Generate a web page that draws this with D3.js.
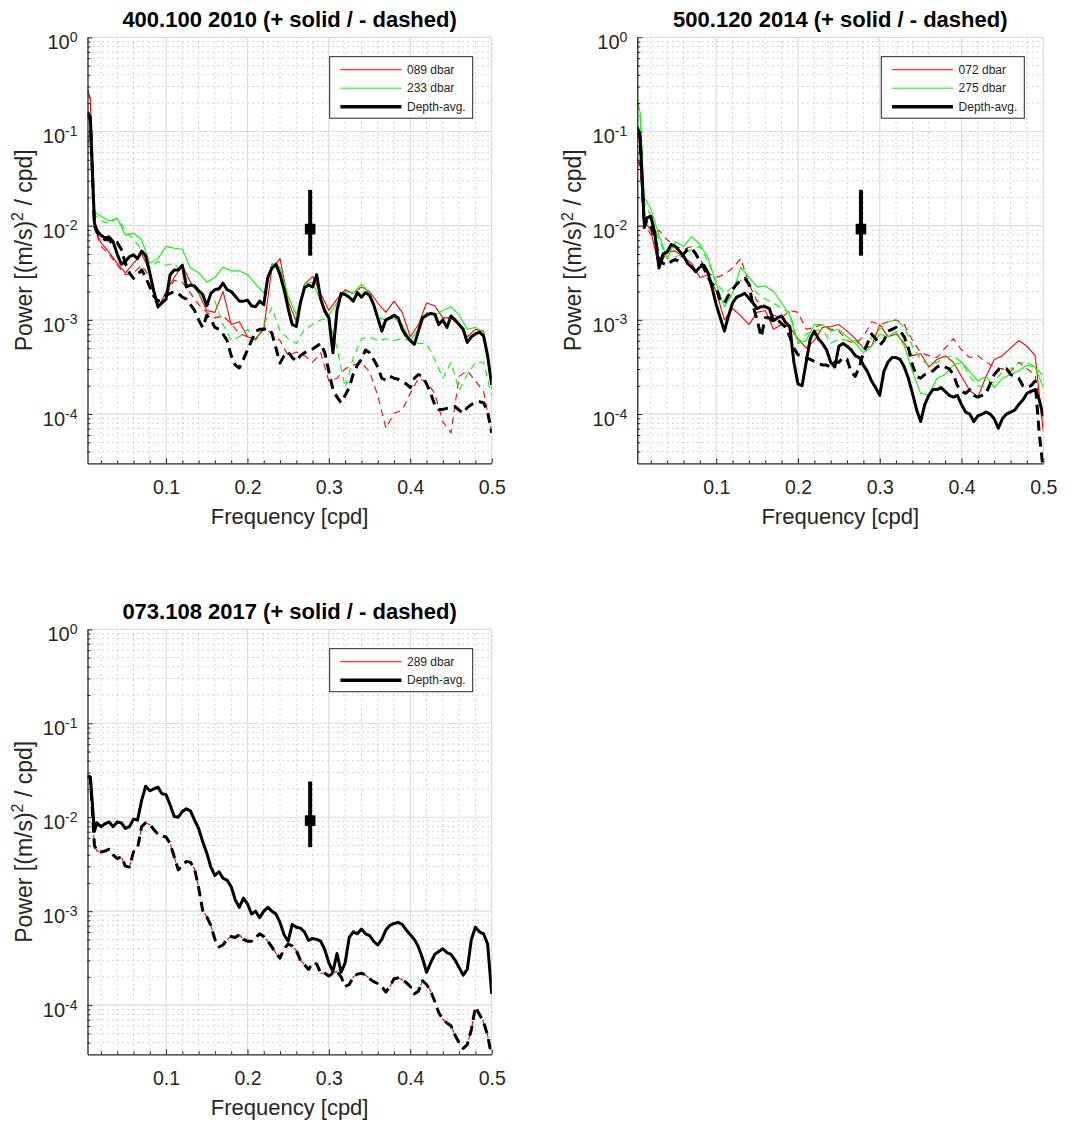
<!DOCTYPE html>
<html>
<head>
<meta charset="utf-8">
<script src="https://cdn.jsdelivr.net/npm/d3@7"></script>
<style>
  body { margin: 0; background: #fff; }
  svg { display: block; font-family: "Liberation Sans", Arial, Helvetica, sans-serif; }
</style>
</head>
<body>
<div id="chart"></div>
<script>
// frequency grids [cpd]: fine one for the depth-averaged spectra, coarse one for single depths
var freqFine = [0.0035, 0.007, 0.012, 0.015, 0.02, 0.025, 0.03, 0.035, 0.04, 0.045,
  0.05, 0.055, 0.06, 0.065, 0.07, 0.075, 0.08, 0.085, 0.09, 0.095,
  0.1, 0.105, 0.11, 0.115, 0.12, 0.125, 0.13, 0.135, 0.14, 0.145,
  0.15, 0.155, 0.16, 0.165, 0.17, 0.175, 0.18, 0.185, 0.19, 0.195,
  0.2, 0.205, 0.21, 0.215, 0.22, 0.225, 0.23, 0.235, 0.24, 0.245,
  0.25, 0.255, 0.26, 0.265, 0.27, 0.275, 0.28, 0.285, 0.29, 0.295,
  0.3, 0.305, 0.31, 0.315, 0.32, 0.325, 0.33, 0.335, 0.34, 0.345,
  0.35, 0.355, 0.36, 0.365, 0.37, 0.375, 0.38, 0.385, 0.39, 0.395,
  0.4, 0.405, 0.41, 0.415, 0.42, 0.425, 0.43, 0.435, 0.44, 0.445,
  0.45, 0.455, 0.46, 0.465, 0.47, 0.475, 0.48, 0.485, 0.49, 0.495,
  0.5];
var freqCoarse = [0.0035, 0.007, 0.012, 0.02, 0.03, 0.04, 0.05, 0.06, 0.07, 0.08,
  0.09, 0.1, 0.11, 0.12, 0.13, 0.14, 0.15, 0.16, 0.17, 0.18,
  0.19, 0.2, 0.21, 0.22, 0.23, 0.24, 0.25, 0.26, 0.27, 0.28,
  0.29, 0.3, 0.31, 0.32, 0.33, 0.34, 0.35, 0.36, 0.37, 0.38,
  0.39, 0.4, 0.41, 0.42, 0.43, 0.44, 0.45, 0.46, 0.47, 0.48,
  0.49, 0.5];

var freqTicks = [0.1, 0.2, 0.3, 0.4, 0.5];
var powerTicks = [1e-4, 1e-3, 1e-2, 1e-1, 1];
var powerExps = ["-4", "-3", "-2", "-1", "0"];

// error bar (95% confidence)
var errFreq = 0.277, errMid = 9.2e-3, errLow = 4.8e-3, errHigh = 2.4e-2;

// ---- 400.100 2010 ----
var p1AvgPos = [1.62e-1, 1.41e-1, 1.07e-2, 8.91e-3, 7.94e-3, 7.41e-3, 7.59e-3, 6.76e-3, 5.01e-3, 3.89e-3,
  4.17e-3, 4.68e-3, 4.90e-3, 4.47e-3, 5.37e-3, 4.79e-3, 3.16e-3, 2.00e-3, 1.38e-3, 1.51e-3,
  1.66e-3, 3.02e-3, 3.39e-3, 3.39e-3, 3.80e-3, 2.24e-3, 2.34e-3, 2.29e-3, 2.04e-3, 1.86e-3,
  1.41e-3, 1.91e-3, 2.09e-3, 2.14e-3, 2.45e-3, 2.09e-3, 2.00e-3, 1.78e-3, 1.58e-3, 1.58e-3,
  1.62e-3, 1.41e-3, 1.38e-3, 1.58e-3, 1.45e-3, 2.82e-3, 3.55e-3, 3.89e-3, 3.02e-3, 2.09e-3,
  1.32e-3, 8.91e-4, 8.51e-4, 1.51e-3, 2.19e-3, 2.34e-3, 2.24e-3, 3.02e-3, 1.66e-3, 1.23e-3,
  1.05e-3, 4.47e-4, 1.26e-3, 1.91e-3, 1.86e-3, 1.74e-3, 1.58e-3, 1.95e-3, 1.74e-3, 1.95e-3,
  1.82e-3, 1.45e-3, 1.05e-3, 7.59e-4, 1.00e-3, 1.05e-3, 1.12e-3, 1.05e-3, 7.94e-4, 6.76e-4,
  6.03e-4, 5.50e-4, 7.59e-4, 1.05e-3, 1.12e-3, 1.17e-3, 1.15e-3, 8.91e-4, 1.00e-3, 8.32e-4,
  1.10e-3, 1.00e-3, 8.91e-4, 7.94e-4, 5.75e-4, 6.61e-4, 7.08e-4, 7.41e-4, 6.76e-4, 4.17e-4,
  2.04e-4];
var p1AvgNeg = [1.51e-1, 1.32e-1, 1.00e-2, 8.51e-3, 7.59e-3, 7.08e-3, 7.08e-3, 6.31e-3, 6.61e-3, 5.62e-3,
  3.98e-3, 3.16e-3, 2.75e-3, 3.02e-3, 3.39e-3, 2.82e-3, 2.24e-3, 1.78e-3, 1.58e-3, 1.66e-3,
  1.82e-3, 1.91e-3, 2.00e-3, 1.91e-3, 1.74e-3, 1.66e-3, 1.45e-3, 1.26e-3, 1.00e-3, 8.32e-4,
  1.12e-3, 1.00e-3, 8.32e-4, 7.94e-4, 7.08e-4, 6.03e-4, 4.17e-4, 3.31e-4, 3.09e-4, 3.80e-4,
  4.79e-4, 6.03e-4, 7.59e-4, 7.94e-4, 7.94e-4, 8.13e-4, 7.24e-4, 5.01e-4, 3.47e-4, 4.17e-4,
  4.57e-4, 3.98e-4, 3.63e-4, 4.17e-4, 4.47e-4, 4.68e-4, 4.90e-4, 5.25e-4, 5.62e-4, 4.47e-4,
  2.82e-4, 1.82e-4, 1.51e-4, 1.32e-4, 1.58e-4, 1.91e-4, 2.69e-4, 3.31e-4, 3.80e-4, 4.79e-4,
  4.47e-4, 3.80e-4, 3.16e-4, 2.40e-4, 2.29e-4, 2.51e-4, 2.40e-4, 2.34e-4, 2.19e-4, 2.09e-4,
  1.91e-4, 2.40e-4, 2.63e-4, 2.51e-4, 2.09e-4, 1.66e-4, 1.26e-4, 1.12e-4, 1.12e-4, 1.15e-4,
  1.17e-4, 1.20e-4, 1.10e-4, 1.02e-4, 1.17e-4, 1.26e-4, 1.32e-4, 1.35e-4, 1.32e-4, 1.05e-4,
  6.31e-5];
var p1Red089Pos = [2.82e-1, 2.24e-1, 1.00e-2, 6.61e-3, 5.25e-3, 3.98e-3, 3.16e-3, 3.98e-3, 5.01e-3, 3.31e-3,
  1.32e-3, 2.00e-3, 2.82e-3, 3.80e-3, 2.51e-3, 1.91e-3, 1.26e-3, 1.20e-3, 2.00e-3, 8.91e-4,
  9.55e-4, 6.61e-4, 6.31e-4, 7.94e-4, 3.55e-3, 4.47e-3, 1.58e-3, 9.55e-4, 2.40e-3, 2.88e-3,
  1.91e-3, 1.26e-3, 1.66e-3, 2.09e-3, 1.91e-3, 2.24e-3, 2.00e-3, 1.51e-3, 1.20e-3, 1.58e-3,
  1.20e-3, 6.61e-4, 8.91e-4, 1.51e-3, 1.41e-3, 1.05e-3, 1.05e-3, 8.71e-4, 6.61e-4, 7.94e-4,
  7.59e-4, 2.29e-4];
var p1Red089Neg = [2.63e-1, 2.09e-1, 9.55e-3, 6.03e-3, 5.01e-3, 3.80e-3, 3.02e-3, 3.16e-3, 3.80e-3, 2.82e-3,
  1.32e-3, 1.82e-3, 2.63e-3, 2.51e-3, 1.91e-3, 1.45e-3, 1.20e-3, 1.05e-3, 1.10e-3, 9.12e-4,
  7.08e-4, 6.61e-4, 6.17e-4, 8.32e-4, 7.08e-4, 6.03e-4, 4.17e-4, 4.57e-4, 4.17e-4, 3.55e-4,
  4.47e-4, 2.24e-4, 2.40e-4, 3.02e-4, 3.31e-4, 3.47e-4, 2.82e-4, 1.58e-4, 7.08e-5, 1.02e-4,
  1.10e-4, 1.66e-4, 2.40e-4, 2.19e-4, 1.66e-4, 8.32e-5, 6.31e-5, 2.51e-4, 2.88e-4, 2.24e-4,
  1.74e-4, 6.31e-5];
var p1Green233Pos = [8.51e-2, 7.94e-2, 1.41e-2, 1.26e-2, 1.12e-2, 1.20e-2, 7.94e-3, 8.32e-3, 7.08e-3, 3.98e-3,
  4.47e-3, 6.03e-3, 5.75e-3, 5.62e-3, 3.55e-3, 3.16e-3, 2.51e-3, 2.82e-3, 3.63e-3, 3.31e-3,
  3.31e-3, 3.02e-3, 2.40e-3, 1.91e-3, 3.98e-3, 3.55e-3, 1.78e-3, 1.12e-3, 2.40e-3, 2.51e-3,
  1.58e-3, 1.12e-3, 1.51e-3, 2.00e-3, 1.91e-3, 2.40e-3, 1.91e-3, 1.05e-3, 1.00e-3, 1.05e-3,
  8.91e-4, 6.03e-4, 7.94e-4, 1.20e-3, 1.12e-3, 1.26e-3, 1.38e-3, 1.12e-3, 7.94e-4, 8.32e-4,
  7.41e-4, 1.82e-4];
var p1Green233Neg = [7.94e-2, 7.08e-2, 1.32e-2, 1.12e-2, 1.05e-2, 1.20e-2, 8.91e-3, 7.08e-3, 5.62e-3, 3.55e-3,
  4.17e-3, 3.80e-3, 3.98e-3, 3.16e-3, 2.40e-3, 1.91e-3, 1.41e-3, 1.58e-3, 8.91e-4, 6.03e-4,
  6.61e-4, 7.94e-4, 6.03e-4, 8.91e-4, 1.35e-3, 7.59e-4, 6.31e-4, 5.62e-4, 7.94e-4, 8.91e-4,
  1.00e-3, 1.05e-3, 5.01e-4, 1.91e-4, 3.98e-4, 6.31e-4, 6.61e-4, 6.03e-4, 6.31e-4, 6.03e-4,
  6.31e-4, 6.03e-4, 5.62e-4, 5.62e-4, 3.80e-4, 2.40e-4, 3.55e-4, 1.78e-4, 2.63e-4, 3.55e-4,
  3.55e-4, 1.55e-4];

// ---- 500.120 2014 ----
var p2AvgPos = [1.12e-1, 8.91e-2, 1.05e-2, 1.20e-2, 1.26e-2, 8.32e-3, 3.55e-3, 5.01e-3, 5.25e-3, 6.31e-3,
  6.03e-3, 5.37e-3, 4.79e-3, 3.98e-3, 3.63e-3, 3.24e-3, 3.63e-3, 3.80e-3, 3.16e-3, 2.19e-3,
  1.45e-3, 1.05e-3, 7.59e-4, 1.10e-3, 1.51e-3, 1.74e-3, 1.82e-3, 1.91e-3, 1.70e-3, 1.51e-3,
  1.32e-3, 1.38e-3, 1.38e-3, 1.32e-3, 9.77e-4, 1.05e-3, 1.10e-3, 9.33e-4, 8.51e-4, 3.55e-4,
  2.09e-4, 2.00e-4, 3.55e-4, 6.31e-4, 7.59e-4, 6.31e-4, 5.62e-4, 4.79e-4, 3.55e-4, 3.16e-4,
  5.25e-4, 5.62e-4, 5.25e-4, 4.79e-4, 4.17e-4, 3.98e-4, 3.31e-4, 2.82e-4, 2.24e-4, 1.91e-4,
  1.58e-4, 2.82e-4, 3.55e-4, 3.98e-4, 3.98e-4, 3.80e-4, 3.16e-4, 2.40e-4, 1.66e-4, 1.12e-4,
  8.32e-5, 1.26e-4, 1.58e-4, 1.82e-4, 1.82e-4, 1.91e-4, 1.74e-4, 1.58e-4, 1.51e-4, 1.58e-4,
  1.26e-4, 1.05e-4, 1.00e-4, 8.32e-5, 9.55e-5, 1.00e-4, 1.05e-4, 1.00e-4, 8.91e-5, 7.08e-5,
  8.91e-5, 1.00e-4, 1.05e-4, 1.10e-4, 1.26e-4, 1.41e-4, 1.66e-4, 1.74e-4, 1.82e-4, 1.41e-4,
  9.55e-5];
var p2AvgNeg = [1.05e-1, 8.32e-2, 9.55e-3, 1.12e-2, 1.00e-2, 7.59e-3, 4.47e-3, 3.98e-3, 3.80e-3, 4.17e-3,
  4.37e-3, 4.17e-3, 5.01e-3, 5.62e-3, 5.75e-3, 5.01e-3, 4.17e-3, 3.55e-3, 2.82e-3, 2.40e-3,
  2.24e-3, 1.58e-3, 1.51e-3, 1.82e-3, 2.09e-3, 2.40e-3, 2.63e-3, 2.75e-3, 2.40e-3, 1.41e-3,
  1.00e-3, 6.61e-4, 1.05e-3, 1.05e-3, 9.55e-4, 1.00e-3, 9.12e-4, 8.32e-4, 6.61e-4, 5.01e-4,
  4.27e-4, 4.17e-4, 3.98e-4, 3.80e-4, 3.63e-4, 3.47e-4, 3.31e-4, 3.31e-4, 3.16e-4, 3.55e-4,
  3.55e-4, 3.98e-4, 3.80e-4, 2.82e-4, 2.51e-4, 3.16e-4, 4.47e-4, 5.62e-4, 7.08e-4, 6.31e-4,
  5.37e-4, 6.03e-4, 7.59e-4, 7.94e-4, 8.32e-4, 7.59e-4, 6.61e-4, 5.01e-4, 3.31e-4, 2.51e-4,
  2.40e-4, 2.63e-4, 2.75e-4, 2.88e-4, 3.16e-4, 3.31e-4, 3.16e-4, 3.02e-4, 2.63e-4, 2.00e-4,
  1.74e-4, 1.66e-4, 1.82e-4, 1.58e-4, 1.51e-4, 1.58e-4, 1.66e-4, 2.09e-4, 2.63e-4, 2.95e-4,
  3.02e-4, 3.02e-4, 2.63e-4, 2.51e-4, 2.40e-4, 2.00e-4, 1.91e-4, 2.00e-4, 2.24e-4, 6.31e-5,
  2.51e-5];
var p2Red072Pos = [5.25e-2, 4.47e-2, 1.12e-2, 8.91e-3, 3.55e-3, 5.37e-3, 5.37e-3, 4.68e-3, 3.98e-3, 2.82e-3,
  3.02e-3, 2.00e-3, 1.00e-3, 1.32e-3, 1.10e-3, 8.91e-4, 1.20e-3, 1.26e-3, 7.94e-4, 8.91e-4,
  8.32e-4, 6.31e-4, 5.01e-4, 6.03e-4, 8.32e-4, 8.51e-4, 8.91e-4, 7.59e-4, 6.31e-4, 5.01e-4,
  5.25e-4, 8.91e-4, 6.61e-4, 7.08e-4, 5.62e-4, 4.17e-4, 4.37e-4, 3.16e-4, 3.80e-4, 4.17e-4,
  3.55e-4, 2.51e-4, 1.78e-4, 1.51e-4, 2.51e-4, 3.80e-4, 4.17e-4, 5.01e-4, 6.03e-4, 5.25e-4,
  4.17e-4, 6.61e-5];
var p2Red072Neg = [5.01e-2, 4.17e-2, 1.12e-2, 7.94e-3, 8.91e-3, 7.08e-3, 6.03e-3, 5.62e-3, 6.03e-3, 4.47e-3,
  3.16e-3, 2.82e-3, 3.02e-3, 3.55e-3, 4.47e-3, 2.40e-3, 1.58e-3, 1.41e-3, 1.12e-3, 1.05e-3,
  1.26e-3, 1.20e-3, 7.94e-4, 8.32e-4, 8.91e-4, 7.94e-4, 7.59e-4, 6.03e-4, 5.62e-4, 6.61e-4,
  9.55e-4, 8.91e-4, 9.55e-4, 1.00e-3, 8.91e-4, 6.03e-4, 4.47e-4, 4.17e-4, 3.98e-4, 5.01e-4,
  6.31e-4, 4.79e-4, 3.98e-4, 4.17e-4, 3.55e-4, 3.16e-4, 3.02e-4, 2.82e-4, 3.55e-4, 3.02e-4,
  2.63e-4, 7.08e-5];
var p2Green275Pos = [2.24e-1, 1.58e-1, 2.00e-2, 1.51e-2, 7.94e-3, 4.47e-3, 6.76e-3, 6.03e-3, 7.59e-3, 6.31e-3,
  4.57e-3, 2.40e-3, 1.38e-3, 1.91e-3, 3.63e-3, 2.82e-3, 2.24e-3, 2.29e-3, 2.00e-3, 1.51e-3,
  1.12e-3, 5.62e-4, 6.03e-4, 8.91e-4, 8.91e-4, 7.59e-4, 7.94e-4, 6.61e-4, 5.62e-4, 4.47e-4,
  5.25e-4, 7.08e-4, 6.61e-4, 7.59e-4, 5.25e-4, 2.82e-4, 1.66e-4, 1.58e-4, 2.40e-4, 2.63e-4,
  3.31e-4, 3.55e-4, 2.82e-4, 2.24e-4, 2.51e-4, 1.91e-4, 2.40e-4, 2.63e-4, 2.88e-4, 3.31e-4,
  3.16e-4, 1.91e-4];
var p2Green275Neg = [2.00e-1, 1.41e-1, 1.78e-2, 1.26e-2, 7.08e-3, 4.47e-3, 4.68e-3, 5.01e-3, 5.62e-3, 6.03e-3,
  4.17e-3, 2.51e-3, 1.91e-3, 2.24e-3, 2.63e-3, 2.51e-3, 1.91e-3, 1.66e-3, 1.51e-3, 1.32e-3,
  1.20e-3, 5.62e-4, 7.08e-4, 7.59e-4, 7.94e-4, 5.62e-4, 6.31e-4, 6.03e-4, 6.03e-4, 5.01e-4,
  6.61e-4, 7.94e-4, 9.55e-4, 1.00e-3, 8.32e-4, 5.25e-4, 3.80e-4, 3.31e-4, 3.55e-4, 3.98e-4,
  4.17e-4, 3.55e-4, 2.51e-4, 2.00e-4, 1.91e-4, 2.24e-4, 2.82e-4, 3.02e-4, 3.47e-4, 3.55e-4,
  3.16e-4, 2.51e-4];

// ---- 073.108 2017 ----
var p3AvgPos = [2.75e-2, 2.69e-2, 7.08e-3, 8.71e-3, 7.94e-3, 8.51e-3, 8.91e-3, 7.94e-3, 8.91e-3, 8.71e-3,
  7.59e-3, 7.94e-3, 9.55e-3, 9.33e-3, 1.51e-2, 2.14e-2, 1.91e-2, 2.00e-2, 2.09e-2, 1.78e-2,
  1.74e-2, 1.35e-2, 1.02e-2, 1.00e-2, 1.15e-2, 1.23e-2, 1.17e-2, 9.33e-3, 7.59e-3, 5.50e-3,
  4.17e-3, 2.95e-3, 2.40e-3, 2.63e-3, 2.24e-3, 2.14e-3, 1.82e-3, 1.32e-3, 1.10e-3, 1.38e-3,
  1.20e-3, 9.33e-4, 1.00e-3, 8.51e-4, 1.00e-3, 1.10e-3, 1.00e-3, 9.33e-4, 7.59e-4, 5.62e-4,
  4.79e-4, 7.24e-4, 6.76e-4, 6.61e-4, 6.03e-4, 4.90e-4, 5.13e-4, 5.01e-4, 4.79e-4, 3.89e-4,
  2.82e-4, 2.29e-4, 3.55e-4, 2.24e-4, 2.82e-4, 5.25e-4, 6.03e-4, 5.75e-4, 6.46e-4, 5.75e-4,
  5.50e-4, 4.79e-4, 4.37e-4, 5.01e-4, 6.31e-4, 7.08e-4, 7.41e-4, 7.59e-4, 7.24e-4, 6.31e-4,
  5.62e-4, 5.01e-4, 4.17e-4, 3.16e-4, 2.24e-4, 2.82e-4, 3.47e-4, 3.72e-4, 3.98e-4, 3.63e-4,
  3.47e-4, 3.02e-4, 2.51e-4, 2.09e-4, 2.40e-4, 5.01e-4, 6.76e-4, 6.03e-4, 5.75e-4, 4.47e-4,
  1.32e-4];
var p3AvgNeg = [2.69e-2, 2.63e-2, 5.01e-3, 4.37e-3, 4.27e-3, 4.37e-3, 4.57e-3, 3.98e-3, 3.63e-3, 3.80e-3,
  3.02e-3, 2.95e-3, 4.27e-3, 4.68e-3, 7.94e-3, 8.71e-3, 8.32e-3, 7.41e-3, 6.61e-3, 6.31e-3,
  6.17e-3, 5.25e-3, 3.80e-3, 2.75e-3, 3.09e-3, 3.39e-3, 3.31e-3, 2.82e-3, 1.78e-3, 1.02e-3,
  8.71e-4, 7.08e-4, 5.01e-4, 4.17e-4, 4.37e-4, 5.01e-4, 5.37e-4, 5.25e-4, 5.62e-4, 5.01e-4,
  4.79e-4, 4.79e-4, 5.25e-4, 5.75e-4, 5.37e-4, 4.79e-4, 4.17e-4, 3.55e-4, 3.16e-4, 3.98e-4,
  4.47e-4, 4.27e-4, 3.80e-4, 3.02e-4, 2.69e-4, 2.40e-4, 2.82e-4, 2.75e-4, 2.19e-4, 2.19e-4,
  2.04e-4, 2.19e-4, 2.29e-4, 2.00e-4, 1.58e-4, 1.66e-4, 2.00e-4, 2.14e-4, 2.19e-4, 2.09e-4,
  1.91e-4, 1.78e-4, 1.70e-4, 1.58e-4, 1.38e-4, 1.58e-4, 1.91e-4, 1.95e-4, 1.86e-4, 1.74e-4,
  1.58e-4, 1.32e-4, 1.41e-4, 1.82e-4, 1.66e-4, 1.41e-4, 1.10e-4, 8.32e-5, 7.08e-5, 6.46e-5,
  6.03e-5, 4.79e-5, 3.98e-5, 3.47e-5, 3.80e-5, 5.50e-5, 9.55e-5, 7.94e-5, 6.61e-5, 4.79e-5,
  2.80e-5];
// only one instrument depth in 2017, so its record is the depth average
var p3Red289Pos = p3AvgPos;
var p3Red289Neg = p3AvgNeg;

var xMin = 0.0035, xMax = 0.5;
var yMin = 3e-5, yMax = 1;

var width = 1076, height = 1125;

var panels = [
  { title: "400.100 2010 (+ solid / - dashed)", left: 87.5, top: 37.3, w: 404.2, h: 426,
    series: [
      { label: "089 dbar", freq: freqCoarse, pos: p1Red089Pos, neg: p1Red089Neg, color: "#ff0000" },
      { label: "233 dbar", freq: freqCoarse, pos: p1Green233Pos, neg: p1Green233Neg, color: "#00ff00" },
      { label: "Depth-avg.", freq: freqFine, pos: p1AvgPos, neg: p1AvgNeg, color: "#000000", thick: true }
    ] },
  { title: "500.120 2014 (+ solid / - dashed)", left: 637.3, top: 37.3, w: 406, h: 426,
    series: [
      { label: "072 dbar", freq: freqCoarse, pos: p2Red072Pos, neg: p2Red072Neg, color: "#ff0000" },
      { label: "275 dbar", freq: freqCoarse, pos: p2Green275Pos, neg: p2Green275Neg, color: "#00ff00" },
      { label: "Depth-avg.", freq: freqFine, pos: p2AvgPos, neg: p2AvgNeg, color: "#000000", thick: true }
    ] },
  { title: "073.108 2017 (+ solid / - dashed)", left: 87.5, top: 629.3, w: 404.2, h: 425,
    series: [
      { label: "289 dbar", freq: freqFine, pos: p3Red289Pos, neg: p3Red289Neg, color: "#ff0000" },
      { label: "Depth-avg.", freq: freqFine, pos: p3AvgPos, neg: p3AvgNeg, color: "#000000", thick: true }
    ] }
];

// sanity check on the hand-typed arrays
panels.forEach(function(p) {
  p.series.forEach(function(s) {
    if (s.pos.length !== s.freq.length || s.neg.length !== s.freq.length)
      throw new Error("length mismatch in " + p.title + " " + s.label + ": " + s.pos.length + "/" + s.neg.length + " vs " + s.freq.length);
  });
});

var svg = d3.select("#chart")
  .append("svg")
  .attr("width", width)
  .attr("height", height);

var axisColor = "#262626";

panels.forEach(function(p, pi) {
  var g = svg.append("g")
    .attr("transform", "translate(" + p.left + "," + p.top + ")");

  var x = d3.scaleLinear().domain([xMin, xMax]).range([0, p.w]);
  var y = d3.scaleLog().domain([yMin, yMax]).range([p.h, 0]);

  g.append("clipPath").attr("id", "clip" + pi)
    .append("rect").attr("width", p.w).attr("height", p.h);

  // minor grid (dotted)
  var isDecade = function(v) { var l = Math.log10(v); return Math.abs(l - Math.round(l)) < 1e-9; };
  var yMinor = y.ticks().filter(function(v) { return !isDecade(v) && v > yMin; });
  var xMinor = d3.range(1, 25).filter(function(i) { return i % 5 !== 0; }).map(function(i) { return i * 0.02; });

  g.selectAll(".ymin").data(yMinor).enter().append("line")
    .attr("x1", 0).attr("x2", p.w)
    .attr("y1", function(d) { return y(d); }).attr("y2", function(d) { return y(d); })
    .attr("stroke", "#b8b8b8").attr("stroke-width", 1).attr("stroke-dasharray", "1.2,3.8");
  g.selectAll(".xmin").data(xMinor).enter().append("line")
    .attr("y1", 0).attr("y2", p.h)
    .attr("x1", function(d) { return x(d); }).attr("x2", function(d) { return x(d); })
    .attr("stroke", "#b8b8b8").attr("stroke-width", 1).attr("stroke-dasharray", "1.2,3.8");

  // major grid
  g.selectAll(".ymaj").data(powerTicks).enter().append("line")
    .attr("x1", 0).attr("x2", p.w)
    .attr("y1", function(d) { return y(d); }).attr("y2", function(d) { return y(d); })
    .attr("stroke", "#dcdcdc").attr("stroke-width", 1.2);
  g.selectAll(".xmaj").data(freqTicks).enter().append("line")
    .attr("y1", 0).attr("y2", p.h)
    .attr("x1", function(d) { return x(d); }).attr("x2", function(d) { return x(d); })
    .attr("stroke", "#dcdcdc").attr("stroke-width", 1.2);

  // spectra
  var line = d3.line()
    .x(function(d) { return x(d[0]); })
    .y(function(d) { return y(d[1]); });

  var plot = g.append("g").attr("clip-path", "url(#clip" + pi + ")");
  p.series.forEach(function(s) {
    plot.append("path")
      .datum(d3.zip(s.freq, s.pos))
      .attr("d", line)
      .attr("fill", "none")
      .attr("stroke", s.color)
      .attr("stroke-width", s.thick ? 3 : 1.1)
      .attr("stroke-linejoin", "round");
    plot.append("path")
      .datum(d3.zip(s.freq, s.neg))
      .attr("d", line)
      .attr("fill", "none")
      .attr("stroke", s.color)
      .attr("stroke-width", s.thick ? 3 : 1.1)
      .attr("stroke-dasharray", s.thick ? "10,6" : "7,5")
      .attr("stroke-linejoin", "round");
  });

  // confidence bar
  g.append("line")
    .attr("x1", x(errFreq)).attr("x2", x(errFreq))
    .attr("y1", y(errLow)).attr("y2", y(errHigh))
    .attr("stroke", "#000").attr("stroke-width", 4);
  g.append("rect")
    .attr("x", x(errFreq) - 5.3).attr("y", y(errMid) - 5.3)
    .attr("width", 10.6).attr("height", 10.6)
    .attr("fill", "#000");

  // axes
  var xAxis = d3.axisBottom(x).tickValues(freqTicks)
    .tickSizeInner(-5).tickSizeOuter(0).tickPadding(16.5)
    .tickFormat(d3.format(".1f"));
  var gx = g.append("g").attr("transform", "translate(0," + p.h + ")").call(xAxis);
  g.append("g").attr("transform", "translate(0," + p.h + ")")
    .call(d3.axisBottom(x).tickValues(xMinor).tickSizeInner(-3).tickSizeOuter(0).tickFormat(""))
    .select(".domain").remove();

  var yAxis = d3.axisLeft(y).tickValues(powerTicks)
    .tickSizeInner(-5).tickSizeOuter(0).tickFormat("");
  var gy = g.append("g").call(yAxis);
  g.append("g")
    .call(d3.axisLeft(y).tickValues(yMinor).tickSizeInner(-3).tickSizeOuter(0).tickFormat(""))
    .select(".domain").remove();

  g.selectAll(".domain").attr("stroke", axisColor).attr("stroke-width", 1.3);
  g.selectAll(".tick line").attr("stroke", axisColor);
  gx.selectAll("text").attr("fill", axisColor).style("font-size", "19.5px")
    .style("font-family", "'Liberation Sans', Arial, sans-serif");

  // y tick labels with superscript exponents
  gy.selectAll(".ylab").data(powerTicks).enter().append("text")
    .attr("class", "ylab")
    .attr("x", -10)
    .attr("y", function(d) { return y(d) + 12; })
    .attr("text-anchor", "end")
    .attr("fill", axisColor)
    .style("font-size", "20px")
    .each(function(d, i) {
      var t = d3.select(this);
      t.append("tspan").text("10");
      t.append("tspan").attr("dy", -7.5).style("font-size", "14px").text(powerExps[i]);
    });

  // labels
  g.append("text")
    .attr("x", p.w / 2).attr("y", -10.6)
    .attr("text-anchor", "middle")
    .style("font-weight", "bold").style("font-size", "22px")
    .attr("fill", "#000")
    .text(p.title);

  g.append("text")
    .attr("x", p.w / 2).attr("y", p.h + 61)
    .attr("text-anchor", "middle")
    .style("font-size", "22px")
    .attr("fill", axisColor)
    .text("Frequency [cpd]");

  var yl = g.append("text")
    .attr("transform", "translate(-56," + (p.h / 2) + ") rotate(-90)")
    .attr("text-anchor", "middle")
    .style("font-size", "23px")
    .attr("fill", axisColor);
  yl.append("tspan").text("Power [(m/s)");
  yl.append("tspan").attr("dy", -8.5).style("font-size", "16px").text("2");
  yl.append("tspan").attr("dy", 8.5).text(" / cpd]");

  // legend
  var n = p.series.length;
  var lw = 143, lh = 13 + (n - 1) * 18.5 + 11.5;
  var lg = g.append("g")
    .attr("transform", "translate(" + (p.w - 19 - lw) + ",19.4)");
  lg.append("rect")
    .attr("width", lw).attr("height", lh)
    .attr("fill", "#fff").attr("stroke", axisColor).attr("stroke-width", 1);
  p.series.forEach(function(s, i) {
    var yy = 13 + i * 18.5;
    lg.append("line")
      .attr("x1", 10.7).attr("x2", 71.7).attr("y1", yy).attr("y2", yy)
      .attr("stroke", s.color).attr("stroke-width", s.thick ? 3.5 : 1);
    lg.append("text")
      .attr("x", 77.3).attr("y", yy + 4.3)
      .style("font-size", "12px")
      .attr("fill", axisColor)
      .text(s.label);
  });
});
</script>
</body>
</html>
